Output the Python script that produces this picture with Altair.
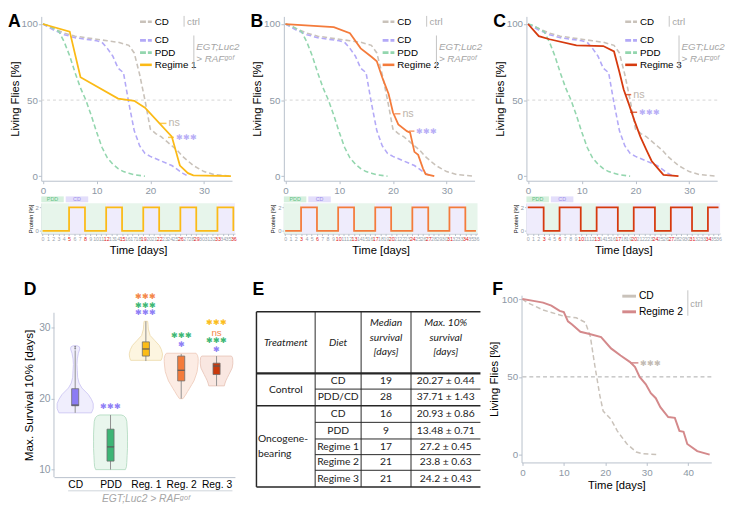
import altair as alt
import pandas as pd

# ---------------- A-C: survival curves (shared dashed references) ----------------
ctrl_days = [0, 2, 4, 6, 8, 10, 12, 14, 16, 17, 18, 19, 20, 21, 22, 23, 24, 25, 26, 27, 28, 29, 30, 32, 35]
ctrl_vals = [100, 97, 94, 92, 91, 90, 89, 88, 86, 81, 67, 50, 31, 28, 26, 23, 20, 17, 13, 10, 7, 5, 3, 1, 0]
cd_days = [0, 2, 4, 6, 8, 10, 11, 12, 13, 14, 15, 16, 17, 18, 19, 20, 22, 24, 26, 27]
cd_vals = [100, 96, 93, 91, 90, 89, 88, 84, 79, 71, 68, 48, 30, 20, 15, 13, 10, 7, 2, 0]
pdd_days = [0, 1, 2, 3, 4, 5, 6, 7, 8, 9, 10, 11, 12, 13, 14, 15, 16, 17, 19]
pdd_vals = [100, 99, 97, 95, 88, 79, 68, 58, 50, 40, 29, 19, 12, 8, 5, 3, 2, 1, 0]

reg1_days = [0, 5, 7, 14, 17, 19, 24, 25.5, 27, 28, 35]
reg1_vals = [100, 95, 65, 51, 49.5, 45, 26, 7, 2, 0.5, 0]
reg2_days = [0, 9, 12, 14, 16, 17, 18, 18.6, 19.2, 20, 21, 22.6, 23.2, 24, 24.7, 25.6, 26.1, 27.7]
reg2_vals = [100, 98, 94, 84, 78.5, 75.5, 65, 59.5, 54, 42, 34, 29.6, 28.6, 16, 14, 5, 1.3, 0]
reg3_days = [0, 2, 4, 9, 14, 16, 17, 17.8, 18.8, 19.8, 20.9, 22, 23, 24, 25.2, 28]
reg3_vals = [100, 92, 90, 86, 85.5, 82, 68.5, 57, 47, 36.5, 26, 17.5, 10, 5.8, 0.9, 0]

# significance ticks: [tick start day, tick end day, survival %]
a_ns, a_st = [21.8, 23.0, 34.7], [23.3, 24.4, 25.5]
b_ns, b_st = [20.3, 21.4, 41.0], [23.0, 24.0, 29.6]
c_ns, c_st = [18.1, 19.2, 53.6], [19.0, 20.3, 42.0]

# protein regimes: switching days and protein at day 0
a_switch = [5, 8, 12, 15, 19, 22, 26, 29, 33, 36]
b_switch = [3, 6, 10, 13, 17, 20, 24, 27, 31, 34]
c_switch = [3, 6, 10, 13, 17, 20, 24, 27, 31, 34]
a_start, b_start, c_start = 0, 0, 2

# ---------------- D: max. survival 10% ----------------
d_cats = ["CD", "PDD", "Reg. 1", "Reg. 2", "Reg. 3"]
viol_lv = [
    [18.0, 18.6, 19.3, 19.9, 20.6, 21.5, 22.2, 23.0, 24.0, 24.8, 25.6, 26.4, 27.0, 27.3, 27.45],
    [10.0, 10.4, 11.0, 12.0, 13.0, 14.0, 15.0, 16.0, 16.8, 17.3, 17.6, 17.7],
    [25.4, 25.8, 26.3, 26.9, 27.5, 28.2, 28.9, 29.8, 30.5, 30.9],
    [20.0, 20.5, 21.0, 21.4, 22.0, 22.5, 23.2, 23.8, 24.6, 25.2, 25.7, 26.1, 26.4],
    [21.8, 22.2, 22.6, 23.0, 23.4, 23.9, 24.3, 24.9, 25.4, 25.8, 26.0],
]
viol_hw = [
    [0.46, 0.51, 0.51, 0.46, 0.37, 0.19, 0.11, 0.07, 0.06, 0.05, 0.06, 0.09, 0.13, 0.12, 0.06],
    [0.42, 0.45, 0.46, 0.47, 0.48, 0.48, 0.48, 0.47, 0.46, 0.43, 0.37, 0.30],
    [0.43, 0.46, 0.47, 0.44, 0.38, 0.25, 0.12, 0.07, 0.06, 0.05],
    [0.05, 0.12, 0.18, 0.23, 0.30, 0.36, 0.41, 0.45, 0.47, 0.48, 0.48, 0.46, 0.42],
    [0.22, 0.24, 0.27, 0.31, 0.35, 0.40, 0.44, 0.46, 0.46, 0.45, 0.42],
]
box_lo = [18.0, 10.0, 25.3, 20.0, 21.8]
box_q1 = [19.0, 11.2, 26.0, 22.5, 23.4]
box_med = [19.1, 13.2, 27.0, 24.0, 24.6]
box_q3 = [21.4, 15.7, 28.0, 26.0, 25.0]
box_hi = [26.8, 17.7, 30.9, 26.3, 26.0]
cd_outliers = [27.05, 27.3]
star_idx = [2, 3, 3, 3, 4, 4, 5, 5, 5, 5]
star_vs = ["CD", "Reg2", "PDD", "CD", "PDD", "CD", "Reg1", "Reg2", "PDD", "CD"]
star_lab = ["***", "***", "***", "***", "***", "*", "***", "ns", "***", "*"]
star_y = [18.8, 34.3, 33.1, 32.0, 28.8, 27.5, 30.6, 29.3, 28.1, 26.8]

# ---------------- E: table ----------------
tab_header = ["Treatment", "Diet", "Median\nsurvival\n[days]", "Max. 10%\nsurvival\n[days]"]
tab_diet = ["CD", "PDD/CD", "CD", "PDD", "Regime 1", "Regime 2", "Regime 3"]
tab_median = ["19", "28", "16", "9", "17", "21", "21"]
tab_max10 = ["20.27 ± 0.44", "37.71 ± 1.43", "20.93 ± 0.86", "13.48 ± 0.71",
             "27.2 ± 0.45", "23.8 ± 0.63", "24.2 ± 0.43"]

# ---------------- F: regime 2 vs control ----------------
f_ctrl_days = [0, 1, 5, 10, 13, 15.2, 16.4, 17.5, 18.7, 19.5, 21.4, 22.9, 25.2, 27.5, 29, 33]
f_ctrl_vals = [100, 98, 93, 89, 88, 85, 76, 57, 38, 28, 22.7, 15.3, 7, 1.7, 0.6, 0]
f_reg2_days = [0, 3, 5, 7, 9, 10, 11, 12, 14, 16, 19, 21.4, 23.7, 26, 27.2, 28.3, 29.8, 31, 32.2,
               33.3, 35.2, 36.8, 37.9, 38.9, 39.8, 42.2, 45.2]
f_reg2_vals = [100, 98.7, 97.7, 95.8, 92.4, 91.6, 85.7, 83.6, 79, 77.7, 75.6, 68.3, 63.7, 59.5, 56.3,
               50, 45.2, 39.5, 36.3, 30.5, 24.2, 23.7, 15.3, 14.7, 6.9, 2.3, 0]
f_st = [26.0, 28.0, 59.0]

# ================= styling =================
FONT = "Liberation Sans"
AXC = "#b7c0cb"
LABC = "#8d98a5"
GREY_LINE = "#c9c2ba"
CD_COL = "#b3a9f7"
PDD_COL = "#93d6ae"
REG_COL = {"Regime 1": "#fbba16", "Regime 2": "#f47b3b", "Regime 3": "#d63a0e"}
NOTE = "#a6a6a6"
SUP = "RAF\u1d4d\u1d52\u1da0"
IND = dict(color="independent")

dummy = pd.DataFrame({"k": [0]})


def ptext(x, y, txt, **kw):
    kw.setdefault("align", "left")
    kw.setdefault("baseline", "middle")
    return alt.Chart(dummy).mark_text(**kw).encode(x=alt.value(x), y=alt.value(y), text=alt.value(txt))


def prule(x, y, x2=None, y2=None, **kw):
    enc = dict(x=alt.value(x), y=alt.value(y))
    if x2 is not None:
        enc["x2"] = alt.value(x2)
    if y2 is not None:
        enc["y2"] = alt.value(y2)
    return alt.Chart(dummy).mark_rule(**kw).encode(**enc)


def curve_df(days, vals, name):
    return pd.DataFrame({"day": days, "pct": vals, "series": name})


def letter(x, y, t):
    return ptext(x, y, t, fontSize=18, fontWeight="bold", baseline="top", color="black")


def surv_panel(let, reg_name, reg_days, reg_vals, ns, st, W=195, H=168):
    col = REG_COL[reg_name]
    xa = alt.Axis(values=[0, 10, 20, 30], title=None, grid=False, labelFontSize=10, labelColor=LABC,
                  tickColor=AXC, domainColor=AXC, tickSize=3, labelPadding=2, labelFlush=False)
    ya = alt.Axis(values=[0, 50, 100], title="Living Flies [%]", grid=False, labelFontSize=10,
                  labelColor=LABC, tickColor=AXC, domainColor=AXC, tickSize=3, labelPadding=1,
                  titleFontSize=11.5, titleFontWeight="normal", titleColor="black", titlePadding=1)
    xs = alt.Scale(domain=[-0.3, 35.2], nice=False, zero=False)
    ys = alt.Scale(domain=[-3, 105], nice=False, zero=False)

    def X(f):
        return alt.X(f, type="quantitative", scale=xs, axis=xa)

    def Y(f):
        return alt.Y(f, type="quantitative", scale=ys, axis=ya)

    dash_df = pd.concat([curve_df(ctrl_days, ctrl_vals, "ctrl"), curve_df(cd_days, cd_vals, "CD"),
                         curve_df(pdd_days, pdd_vals, "PDD")])
    half = alt.Chart(dummy).mark_rule(color="#d4d4d4", strokeDash=[3, 3], strokeWidth=1).encode(
        y=alt.datum(50))
    dashed = alt.Chart(dash_df).mark_line(strokeDash=[5, 3], strokeWidth=1.6).encode(
        x=X("day"), y=Y("pct"),
        color=alt.Color("series:N", scale=alt.Scale(domain=["ctrl", "CD", "PDD"],
                                                    range=[GREY_LINE, CD_COL, PDD_COL]), legend=None),
        detail="series:N")
    reg = alt.Chart(curve_df(reg_days, reg_vals, reg_name)).mark_line(color=col, strokeWidth=1.8).encode(
        x=X("day"), y=Y("pct"))
    ann = pd.DataFrame({"x0": [ns[0], st[0]], "x1": [ns[1], st[1]], "y": [ns[2], st[2]],
                        "lab": ["ns", "\u2731\u2731\u2731"]})
    ticks = alt.Chart(ann).mark_rule(color=col, strokeWidth=1.5, opacity=0.75).encode(
        x=X("x0"), x2="x1:Q", y=Y("y"))
    ns_t = alt.Chart(ann.iloc[[0]]).mark_text(align="left", dx=2, fontSize=11, color="#bdb5ac").encode(
        x=X("x1"), y=Y("y"), text="lab:N")
    st_t = alt.Chart(ann.iloc[[1]]).mark_text(align="left", dx=2, fontSize=8.5, color="#b9aff6").encode(
        x=X("x1"), y=Y("y"), text="lab:N")

    leg = []
    rows = [("CD", GREY_LINE, True, 5.5), ("CD", CD_COL, True, 24.5), ("PDD", PDD_COL, True, 37),
            (reg_name, col, False, 49.5)]
    for lab, c, dsh, yy in rows:
        kw = dict(color=c, strokeWidth=2.6)
        if dsh:
            kw["strokeDash"] = [6, 2]
        leg.append(prule(101, yy, x2=113, **kw))
        leg.append(ptext(116, yy, lab, fontSize=10, color="black"))
    leg.append(prule(146, -0.5, y2=10.5, color="#c4c4c4", strokeWidth=1))
    leg.append(ptext(149, 5.5, "ctrl", fontSize=10, color=NOTE))
    leg.append(prule(156, 19.5, y2=54.5, color="#c4c4c4", strokeWidth=1))
    leg.append(ptext(158.5, 31, "EGT;Luc2", fontSize=10, fontStyle="italic", color=NOTE))
    leg.append(ptext(158.5, 44, "> " + SUP, fontSize=10, fontStyle="italic", color=NOTE))

    return alt.layer(half, dashed, reg, ticks, ns_t, st_t, *leg, letter(-34, -3, let)).properties(
        width=W, height=H)


def prot_panel(switch, start, color, W=198, H=31):
    lo, hi = -0.25, 36.3
    edges = [0] + switch + ([] if switch[-1] >= 36 else [36])
    lvl = start
    iv, pts = [], []
    for a, b in zip(edges[:-1], edges[1:]):
        iv.append({"a": a, "b": b, "diet": "CD" if lvl == 2 else "PDD"})
        pts.append({"day": a, "prot": lvl})
        if b in switch:
            lvl = 2 - lvl
    pts.append({"day": edges[-1], "prot": lvl})
    iv[0]["a"] = lo
    iv[-1]["b"] = hi
    test = "indexof([" + ",".join(str(s) for s in switch) + "], datum.value) >= 0"
    xa = alt.Axis(values=list(range(37)), labelFontSize=5.4, labelOverlap=False, labelFlush=False,
                  labelColor={"condition": {"test": test, "value": "#e0201b"}, "value": "#9aa3ad"},
                  labelPadding=1, tickSize=2, tickColor=AXC, domainColor=AXC, grid=False,
                  title="Time [days]", titleFontSize=11.5, titleFontWeight="normal", titleColor="black",
                  titlePadding=3)
    ya = alt.Axis(values=[0, 2], labelFontSize=6, labelColor=LABC, tickSize=2, labelPadding=1,
                  tickColor=AXC, domainColor=AXC, grid=False, title="Protein [%]", titleFontSize=6,
                  titleFontWeight="normal", titleColor="black", titlePadding=2)
    xs = alt.Scale(domain=[lo, hi], nice=False, zero=False)
    ys = alt.Scale(domain=[-0.22, 2.36], nice=False, zero=False)
    bg = alt.Chart(pd.DataFrame(iv)).mark_rect().encode(
        x=alt.X("a:Q", scale=xs, axis=xa), x2="b:Q", y=alt.value(0), y2=alt.value(H),
        color=alt.Color("diet:N", scale=alt.Scale(domain=["PDD", "CD"], range=["#e7f5eb", "#efecfc"]),
                        legend=None))
    line = alt.Chart(pd.DataFrame(pts)).mark_line(interpolate="step-after", color=color,
                                                  strokeWidth=1.8).encode(
        x=alt.X("day:Q", scale=xs, axis=xa), y=alt.Y("prot:Q", scale=ys, axis=ya))
    leg = [
        alt.Chart(dummy).mark_rect(color="#d6f0de").encode(x=alt.value(0), x2=alt.value(23),
                                                           y=alt.value(-7), y2=alt.value(-1)),
        alt.Chart(dummy).mark_rect(color="#e3defb").encode(x=alt.value(25), x2=alt.value(48),
                                                           y=alt.value(-7), y2=alt.value(-1)),
        ptext(11.5, -4, "PDD", align="center", fontSize=5.5, color="#5fbf83"),
        ptext(36.5, -4, "CD", align="center", fontSize=5.5, color="#9c8deb"),
    ]
    return alt.layer(bg, line, *leg).properties(width=W, height=H)


def panel(let, reg_name, rd, rv, ns, st, switch, start):
    return alt.vconcat(surv_panel(let, reg_name, rd, rv, ns, st),
                       prot_panel(switch, start, REG_COL[reg_name]), spacing=23,
                       bounds="flush").resolve_scale(**IND)


A = panel("A", "Regime 1", reg1_days, reg1_vals, a_ns, a_st, a_switch, a_start)
B = panel("B", "Regime 2", reg2_days, reg2_vals, b_ns, b_st, b_switch, b_start)
C = panel("C", "Regime 3", reg3_days, reg3_vals, c_ns, c_st, c_switch, c_start)

# ---------------- D chart ----------------
# plot area starts 18 px above the axis top, so that all three bottom panels share one top
DW, DH = 185, 186
D_TOP, D_BOT = 32.1, 8.94
dxs = alt.Scale(domain=[0.4, 5.52], nice=False, zero=False)
dys = alt.Scale(domain=[D_BOT, 34.58], nice=False, zero=False)
lab_expr = "[" + ",".join("'%s'" % c for c in d_cats) + "][datum.value - 1]"
dxa = alt.Axis(values=[1, 2, 3, 4, 5], labelExpr=lab_expr, title=None, ticks=False, labelFontSize=10.5,
               labelColor="black", domainColor=AXC, labelPadding=3, grid=False, labelFlush=False)
dya = alt.Axis(values=[10, 20, 30], title="Max. Survival 10% [days]", labelFontSize=10.5, labelColor=LABC,
               tickColor=AXC, domain=False, tickSize=3, labelPadding=1, grid=False, titleFontSize=12,
               titleFontWeight="normal", titleColor="black", titlePadding=3, titleY=102)


def DX(f):
    return alt.X(f, type="quantitative", scale=dxs, axis=dxa)


def DY(f):
    return alt.Y(f, type="quantitative", scale=dys, axis=dya)


vrows = []
for i, (lv, hw) in enumerate(zip(viol_lv, viol_hw), start=1):
    for l, h in zip(lv, hw):
        vrows.append({"cat": d_cats[i - 1], "idx": i, "level": l, "hw": h})
vdf = pd.DataFrame(vrows)
violin = alt.Chart(vdf).transform_calculate(
    left="datum.idx - datum.hw", right="datum.idx + datum.hw").mark_area(
    orient="horizontal", strokeWidth=0.9).encode(
    y=DY("level"), x=DX("left"), x2="right:Q",
    fill=alt.Fill("cat:N", scale=alt.Scale(domain=d_cats, range=["#f0eefd", "#e9f6ed", "#fdf5e0",
                                                                 "#fcece4", "#f9e7e1"]), legend=None),
    stroke=alt.Stroke("cat:N", scale=alt.Scale(domain=d_cats, range=["#cdc6f4", "#b4dcc1", "#eedcae",
                                                                     "#efcdbd", "#e8c6ba"]), legend=None),
    detail="cat:N")
axis_line = alt.Chart(dummy).mark_rule(color=AXC, strokeWidth=1).encode(
    x=alt.value(0), y=alt.datum(D_BOT, scale=dys), y2=alt.datum(D_TOP))
bdf = pd.DataFrame({"idx": list(range(1, 6)), "cat": d_cats, "lo": box_lo, "q1": box_q1, "med": box_med,
                    "q3": box_q3, "hi": box_hi})
whisk = alt.Chart(bdf).mark_rule(color="#8f8f8f", strokeWidth=1).encode(x=DX("idx"), y=DY("lo"), y2="hi:Q")
box = alt.Chart(bdf).transform_calculate(bl="datum.idx - 0.1", br="datum.idx + 0.1").mark_rect(
    stroke="#6e6e6e", strokeWidth=0.8).encode(
    x=DX("bl"), x2="br:Q", y=DY("q1"), y2="q3:Q",
    color=alt.Color("cat:N", scale=alt.Scale(domain=d_cats, range=["#8b7cf4", "#3db575", "#fbbc17",
                                                                  "#f47b3b", "#c9390c"]), legend=None))
medr = alt.Chart(bdf).transform_calculate(bl="datum.idx - 0.1", br="datum.idx + 0.1").mark_rule(
    color="#5a5a5a", strokeWidth=1.2).encode(x=DX("bl"), x2="br:Q", y=DY("med"))
outl = alt.Chart(pd.DataFrame({"idx": [1] * len(cd_outliers), "v": cd_outliers})).mark_point(
    size=4, color="#666", filled=True).encode(x=DX("idx"), y=DY("v"))
sdf = pd.DataFrame({"idx": star_idx, "vs": star_vs, "lab": [s.replace("*", "\u2731") for s in star_lab],
                    "y": star_y, "ns": [s == "ns" for s in star_lab]})
star_layers = []
for vs, c in [("CD", "#8f80f6"), ("PDD", "#3fb876"), ("Reg1", "#fbbd1c"), ("Reg2", "#f4874a")]:
    for isns in (False, True):
        sub = sdf[(sdf.vs == vs) & (sdf.ns == isns)]
        if len(sub):
            star_layers.append(alt.Chart(sub).mark_text(
                color=c, fontSize=10 if isns else 8, baseline="middle").encode(
                x=DX("idx"), y=DY("y"), text="lab:N"))
under_line = alt.Chart(dummy).mark_rule(color="#cfd4da", strokeWidth=1).encode(
    x=alt.datum(0.8, scale=dxs), x2=alt.datum(5.45), y=alt.value(DH + 14))
under_text = alt.Chart(dummy).mark_text(fontSize=10.5, fontStyle="italic", color=NOTE).encode(
    x=alt.datum(3.0, scale=dxs), y=alt.value(DH + 22), text=alt.value("EGT;Luc2 > " + SUP))
D = alt.layer(violin, axis_line, whisk, box, medr, outl, *star_layers, under_line, under_text,
              letter(-31, -14, "D")).properties(width=DW, height=DH).resolve_scale(color="independent")

# ---------------- E table ----------------
TW, TH = 229, 196
col_edges = [0, 60, 107, 158, 229]
row_edges = [0, 63, 79, 96, 113, 130, 146, 162, 179]
T_OFF = 17  # table starts 17 px below the shared top of the bottom panels
txs = alt.Scale(domain=[0, TW], nice=False, zero=False)
tys = alt.Scale(domain=[-T_OFF, TH - T_OFF], nice=False, zero=False, reverse=True)
ccen = [(a + b) / 2 for a, b in zip(col_edges[:-1], col_edges[1:])]
hrows = []
for j, h in enumerate(tab_header):
    lines = h.split("\n")
    for k, ln in enumerate(lines):
        yy = row_edges[1] / 2 + (k - (len(lines) - 1) / 2) * 15 - (5 if len(lines) > 1 else 0)
        hrows.append({"x": ccen[j], "y": yy, "t": ln})
brows = []
for r in range(7):
    yc = (row_edges[r + 1] + row_edges[r + 2]) / 2
    brows += [{"x": ccen[1], "y": yc, "t": tab_diet[r]}, {"x": ccen[2], "y": yc, "t": tab_median[r]},
              {"x": ccen[3], "y": yc, "t": tab_max10[r]}]
brows.append({"x": ccen[0], "y": (row_edges[1] + row_edges[3]) / 2, "t": "Control"})
onc_c = (row_edges[3] + row_edges[8]) / 2
lrows = [{"x": 1.5, "y": onc_c - 7.5, "t": "Oncogene-"}, {"x": 1.5, "y": onc_c + 7.5, "t": "bearing"}]
hl = [{"x0": 0, "x1": 229, "y": row_edges[0], "w": 1.5}, {"x0": 0, "x1": 229, "y": row_edges[1], "w": 2.2},
      {"x0": 0, "x1": 229, "y": row_edges[3], "w": 1.5}, {"x0": 0, "x1": 229, "y": row_edges[8], "w": 1.5}]
for r in [2, 4, 5, 6, 7]:
    hl.append({"x0": col_edges[1], "x1": 229, "y": row_edges[r], "w": 1})
vl = [{"x": col_edges[0], "w": 1.5}] + [{"x": c, "w": 1} for c in col_edges[1:4]]
for v in vl:
    v["y0"], v["y1"] = 0, row_edges[-1]
TX = lambda f: alt.X(f, type="quantitative", scale=txs, axis=None)
TY = lambda f: alt.Y(f, type="quantitative", scale=tys, axis=None)
tfont = "Lato"
t_head = alt.Chart(pd.DataFrame(hrows)).mark_text(font=tfont, fontSize=10.5, fontStyle="italic",
                                                  color="#222").encode(x=TX("x"), y=TY("y"), text="t:N")
t_body = alt.Chart(pd.DataFrame(brows)).mark_text(font=tfont, fontSize=10.5, color="#222").encode(
    x=TX("x"), y=TY("y"), text="t:N")
t_left = alt.Chart(pd.DataFrame(lrows)).mark_text(font=tfont, fontSize=10.5, color="#222",
                                                  align="left").encode(x=TX("x"), y=TY("y"), text="t:N")
t_hl = alt.Chart(pd.DataFrame(hl)).mark_rule(color="#262626").encode(
    x=TX("x0"), x2="x1:Q", y=TY("y"), strokeWidth=alt.StrokeWidth("w:Q", scale=None))
t_vl = alt.Chart(pd.DataFrame(vl)).mark_rule(color="#262626").encode(
    x=TX("x"), y=TY("y0"), y2="y1:Q", strokeWidth=alt.StrokeWidth("w:Q", scale=None))
E = alt.layer(t_hl, t_vl, t_head, t_body, t_left, prule(-42, 100, x2=-40, strokeOpacity=0),
              letter(-4, -14, "E")).properties(width=TW, height=TH)

# ---------------- F chart ----------------
FW, FH = 194, 171
fxs = alt.Scale(domain=[-0.2, 45.6], nice=False, zero=False)
fys = alt.Scale(domain=[-5, 102.5], nice=False, zero=False)
fxa = alt.Axis(values=[0, 10, 20, 30, 40], title="Time [days]", grid=False, labelFontSize=10, labelColor=LABC,
               tickColor=AXC, domainColor=AXC, tickSize=3, labelPadding=2, labelFlush=False,
               titleFontSize=11.5, titleFontWeight="normal", titleColor="black", titlePadding=3)
fya = alt.Axis(values=[0, 50, 100], title="Living Flies [%]", grid=False, labelFontSize=10, labelColor=LABC,
               tickColor=AXC, domainColor=AXC, tickSize=3, labelPadding=1, titleFontSize=11.5,
               titleFontWeight="normal", titleColor="black", titlePadding=2)
FX = lambda f: alt.X(f, type="quantitative", scale=fxs, axis=fxa)
FY = lambda f: alt.Y(f, type="quantitative", scale=fys, axis=fya)
f_half = alt.Chart(dummy).mark_rule(color="#a9a9a9", strokeDash=[4, 3], strokeWidth=1).encode(y=alt.datum(50))
f_ctrl = alt.Chart(curve_df(f_ctrl_days, f_ctrl_vals, "CD")).mark_line(
    color=GREY_LINE, strokeDash=[5, 3], strokeWidth=1.5).encode(x=FX("day"), y=FY("pct"))
f_reg = alt.Chart(curve_df(f_reg2_days, f_reg2_vals, "Regime 2")).mark_line(
    color="#d4898b", strokeWidth=2).encode(x=FX("day"), y=FY("pct"))
fann = pd.DataFrame({"x0": [f_st[0]], "x1": [f_st[1]], "y": [f_st[2]], "lab": ["\u2731\u2731\u2731"]})
f_tick = alt.Chart(fann).mark_rule(color="#d4898b", strokeWidth=1.5).encode(x=FX("x0"), x2="x1:Q", y=FY("y"))
f_stt = alt.Chart(fann).mark_text(align="left", dx=2, fontSize=8.5, color="#c3bbb3").encode(
    x=FX("x1"), y=FY("y"), text="lab:N")
f_leg = [prule(103, 1, x2=117, color=GREY_LINE, strokeWidth=3), ptext(120, 1, "CD", fontSize=10.5),
         prule(103, 17, x2=117, color="#d4898b", strokeWidth=3), ptext(120, 17, "Regime 2", fontSize=10.5),
         prule(170, -5, y2=21, color="#c4c4c4", strokeWidth=1), ptext(172.5, 9, "ctrl", fontSize=9.5, color=NOTE)]
F = alt.layer(f_half, f_ctrl, f_reg, f_tick, f_stt, *f_leg, prule(-60, 100, x2=-58, strokeOpacity=0),
              letter(-30, -14, "F")).properties(width=FW, height=FH)

# a 1-px invisible spacer starts the bottom row, so that D can sit right of A's left edge
spacer = alt.layer(prule(0, 0, x2=1, strokeOpacity=0)).properties(width=1, height=1)

top = alt.hconcat(A, B, C, spacing=11).resolve_scale(**IND)
bottom = alt.hconcat(spacer, D, E, F, spacing=-20).resolve_scale(**IND)
chart = alt.vconcat(top, bottom, spacing=26).resolve_scale(**IND).properties(
    padding=0).configure(font=FONT).configure_view(stroke=None)
chart.save("out.html", embed_options={"renderer": "svg", "actions": False})
